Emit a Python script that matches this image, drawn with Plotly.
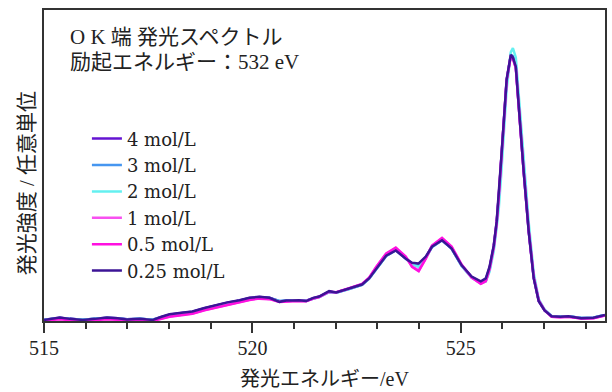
import plotly.graph_objects as go

# Emission energy (eV)
energy = [515.00, 515.19, 515.38, 515.62, 515.93, 516.22, 516.51, 516.77, 516.99, 517.30,
          517.61, 517.82, 518.01, 518.30, 518.56, 518.85, 519.14, 519.40, 519.69, 519.93,
          520.17, 520.41, 520.65, 520.81, 520.96, 521.12, 521.29, 521.46, 521.60, 521.84,
          522.01, 522.32, 522.63, 522.80, 522.97, 523.21, 523.44, 523.68, 523.83, 523.99,
          524.16, 524.31, 524.55, 524.78, 525.02, 525.26, 525.48, 525.60, 525.69, 525.79,
          525.86, 525.91, 525.97, 526.03, 526.10, 526.20, 526.25, 526.32, 526.39, 526.51,
          526.63, 526.75, 526.87, 527.01, 527.18, 527.39, 527.58, 527.89, 528.18, 528.37,
          528.46]

# Intensities (arbitrary units) for each concentration
i_4 = [0.005, 0.009, 0.012, 0.008, 0.005, 0.008, 0.012, 0.010, 0.007, 0.008,
       0.005, 0.015, 0.024, 0.030, 0.035, 0.048, 0.059, 0.069, 0.077, 0.086,
       0.090, 0.087, 0.074, 0.077, 0.077, 0.078, 0.076, 0.086, 0.091, 0.110,
       0.107, 0.121, 0.137, 0.160, 0.198, 0.246, 0.267, 0.236, 0.216, 0.210,
       0.240, 0.280, 0.304, 0.273, 0.208, 0.165, 0.146, 0.156, 0.200, 0.280,
       0.370, 0.468, 0.610, 0.745, 0.905, 0.998, 0.99, 0.955, 0.806, 0.560,
       0.336, 0.162, 0.075, 0.040, 0.018, 0.016, 0.018, 0.011, 0.012, 0.020,
       0.022]
i_3 = [0.004, 0.008, 0.011, 0.008, 0.005, 0.008, 0.011, 0.010, 0.007, 0.008,
       0.005, 0.014, 0.023, 0.029, 0.034, 0.047, 0.058, 0.068, 0.076, 0.085,
       0.089, 0.086, 0.075, 0.077, 0.076, 0.078, 0.076, 0.085, 0.090, 0.108,
       0.106, 0.120, 0.136, 0.159, 0.196, 0.244, 0.266, 0.236, 0.214, 0.206,
       0.238, 0.278, 0.303, 0.272, 0.207, 0.164, 0.144, 0.152, 0.192, 0.272,
       0.362, 0.458, 0.600, 0.735, 0.900, 1.000, 0.995, 0.962, 0.815, 0.568,
       0.342, 0.166, 0.077, 0.041, 0.018, 0.016, 0.018, 0.011, 0.012, 0.020,
       0.022]
i_2 = [0.004, 0.008, 0.011, 0.007, 0.005, 0.008, 0.011, 0.009, 0.006, 0.008,
       0.005, 0.014, 0.022, 0.028, 0.033, 0.046, 0.057, 0.067, 0.075, 0.084,
       0.088, 0.085, 0.074, 0.076, 0.076, 0.077, 0.075, 0.084, 0.090, 0.108,
       0.106, 0.120, 0.136, 0.158, 0.195, 0.244, 0.266, 0.236, 0.213, 0.203,
       0.236, 0.277, 0.303, 0.272, 0.206, 0.162, 0.142, 0.148, 0.185, 0.262,
       0.350, 0.420, 0.550, 0.690, 0.870, 1.010, 1.025, 0.990, 0.850, 0.600,
       0.370, 0.180, 0.082, 0.043, 0.019, 0.016, 0.018, 0.011, 0.012, 0.020,
       0.022]
i_1 = [0.002, 0.005, 0.008, 0.004, 0.002, 0.004, 0.008, 0.006, 0.003, 0.004,
       0.002, 0.009, 0.017, 0.023, 0.028, 0.041, 0.052, 0.062, 0.071, 0.080,
       0.085, 0.083, 0.072, 0.075, 0.075, 0.076, 0.075, 0.085, 0.091, 0.110,
       0.107, 0.122, 0.138, 0.162, 0.202, 0.252, 0.273, 0.240, 0.205, 0.190,
       0.235, 0.282, 0.310, 0.278, 0.210, 0.163, 0.140, 0.150, 0.195, 0.276,
       0.366, 0.465, 0.605, 0.742, 0.903, 0.995, 0.985, 0.950, 0.803, 0.560,
       0.338, 0.164, 0.076, 0.040, 0.016, 0.014, 0.016, 0.009, 0.010, 0.018,
       0.021]
i_05 = [0.001, 0.004, 0.007, 0.003, 0.001, 0.003, 0.007, 0.005, 0.002, 0.003,
        0.001, 0.008, 0.016, 0.022, 0.027, 0.040, 0.051, 0.061, 0.070, 0.079,
        0.084, 0.082, 0.071, 0.074, 0.074, 0.075, 0.074, 0.084, 0.090, 0.110,
        0.108, 0.123, 0.139, 0.163, 0.203, 0.254, 0.276, 0.242, 0.203, 0.187,
        0.234, 0.283, 0.312, 0.280, 0.212, 0.164, 0.140, 0.150, 0.196, 0.278,
        0.368, 0.466, 0.606, 0.743, 0.904, 0.996, 0.986, 0.951, 0.804, 0.561,
        0.339, 0.165, 0.077, 0.041, 0.016, 0.014, 0.016, 0.009, 0.010, 0.018,
        0.021]
i_025 = [0.004, 0.008, 0.013, 0.008, 0.004, 0.008, 0.013, 0.010, 0.006, 0.008,
         0.004, 0.016, 0.025, 0.031, 0.036, 0.049, 0.060, 0.070, 0.078, 0.087,
         0.091, 0.087, 0.072, 0.077, 0.077, 0.078, 0.075, 0.087, 0.092, 0.112,
         0.107, 0.122, 0.137, 0.160, 0.197, 0.245, 0.265, 0.234, 0.219, 0.216,
         0.242, 0.279, 0.303, 0.272, 0.209, 0.167, 0.149, 0.160, 0.204, 0.283,
         0.372, 0.470, 0.610, 0.746, 0.907, 1.000, 0.990, 0.955, 0.806, 0.559,
         0.335, 0.160, 0.074, 0.040, 0.018, 0.016, 0.018, 0.010, 0.012, 0.021,
         0.023]

series_names = ["4 mol/L", "3 mol/L", "2 mol/L", "1 mol/L", "0.5 mol/L", "0.25 mol/L"]
series_values = [i_4, i_3, i_2, i_1, i_05, i_025]
colors = ["#6414d2", "#4696f0", "#64f0f0", "#f850f0", "#ff10e0", "#3c1496"]

x_ticks = [515, 520, 525]

title_line1 = "O K 端 発光スペクトル"
title_line2 = "励起エネルギー：532 eV"
x_title = "発光エネルギー/eV"
y_title = "発光強度 / 任意単位"

FONT = "Liberation Serif, Noto Sans CJK JP, serif"
LEG_FONT = "DejaVu Serif, Noto Sans CJK JP, serif"
INK = "#222"

fig = go.Figure()
for name, vals, col in zip(series_names, series_values, colors):
    fig.add_trace(go.Scatter(x=energy, y=vals, mode="lines", name=name,
                             line=dict(color=col, width=2.5)))

fig.update_layout(
    width=612, height=392,
    margin=dict(l=44, r=5, t=10, b=69),
    paper_bgcolor="white", plot_bgcolor="white",
    font=dict(family=FONT, size=20, color=INK),
    showlegend=True,
    legend=dict(x=0.0765, y=0.645, xanchor="left", yanchor="top",
                bgcolor="rgba(0,0,0,0)", borderwidth=0,
                font=dict(family=LEG_FONT, size=18, color=INK),
                itemwidth=30, tracegroupgap=0),
)

fig.update_xaxes(
    range=[515, 528.46], tickvals=x_ticks, ticks="outside", ticklen=10,
    tickwidth=1.5, tickcolor="#333", showline=True, linecolor="#333",
    linewidth=1.5, mirror=True, showgrid=False, zeroline=False,
    tickfont=dict(family=FONT, size=20, color=INK),
    minor=dict(dtick=1, ticks="outside", ticklen=6, tickwidth=1.5, tickcolor="#333", showgrid=False),
    title=dict(text=x_title, font=dict(family=FONT, size=20, color=INK), standoff=14),
    ticklabelstandoff=-2,
)
fig.update_yaxes(
    range=[0, 1.168], showticklabels=False, ticks="", showline=True,
    linecolor="#333", linewidth=1.5, mirror=True, showgrid=False, zeroline=False,
)

plot_h = 392 - 10 - 69
# box annotation text lines
fig.add_annotation(x=(68 - 44) / 563, y=(322.7 - 37) / plot_h, xref="paper", yref="paper",
                   text=title_line1, showarrow=False, xanchor="left", yanchor="middle",
                   font=dict(family=FONT, size=21, color=INK))
fig.add_annotation(x=(68 - 44) / 563, y=(322.7 - 62) / plot_h, xref="paper", yref="paper",
                   text=title_line2, showarrow=False, xanchor="left", yanchor="middle",
                   font=dict(family=FONT, size=21, color=INK))
# y-axis title (placed as rotated annotation, centred where the original sits)
fig.add_annotation(x=(27 - 44) / 563, y=(322.7 - 184) / plot_h, xref="paper", yref="paper",
                   text=y_title, showarrow=False, textangle=-90,
                   xanchor="center", yanchor="middle",
                   font=dict(family=FONT, size=21, color=INK))

fig.write_html("out.html")
